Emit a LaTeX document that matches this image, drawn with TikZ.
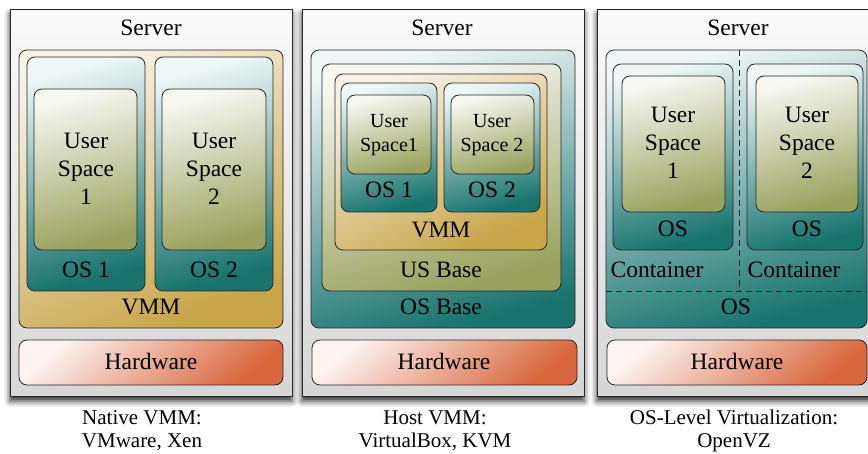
\documentclass[tikz,border=0pt]{standalone}
\usepackage{fontspec}
\setmainfont{Liberation Serif}
\usetikzlibrary{shadows.blur}

\definecolor{srvtop}{HTML}{FBFBFB}
\definecolor{srvbot}{HTML}{D6D6D6}
\definecolor{goldtop}{HTML}{F8F2E6}
\definecolor{goldbot}{HTML}{C8A548}
\definecolor{tealtop}{HTML}{EEF6F6}
\definecolor{tealbot}{HTML}{18736F}
\definecolor{olivetop}{HTML}{F7F7F2}
\definecolor{olivebot}{HTML}{98A25C}
\definecolor{hwtop}{HTML}{FDF4F2}
\definecolor{hwbot}{HTML}{D8663C}

\tikzset{
  box/.style={draw=black!85, line width=0.8pt, rounded corners=8pt},
  serverbox/.style={draw=black!85, line width=0.8pt, top color=srvtop, bottom color=srvbot,
    blur shadow={shadow xshift=0pt, shadow yshift=-5pt, shadow blur radius=6pt, shadow opacity=85}},
  vmmbox/.style={box, top color=goldtop, bottom color=goldbot, shading angle=25},
  osbox/.style={box, top color=tealtop, bottom color=tealbot, shading angle=15},
  usbox/.style={box, top color=olivetop, bottom color=olivebot, shading angle=15},
  hwbox/.style={box, top color=hwtop, bottom color=hwbot, shading angle=40},
  lbl/.style={inner sep=0pt, align=center, font=\fontsize{23.5}{28}\selectfont},
  smalllbl/.style={inner sep=0pt, align=center, font=\fontsize{20}{24}\selectfont},
  caption/.style={inner sep=0pt, align=center, font=\fontsize{21}{23}\selectfont},
  split/.style={draw=black!85, line width=0.8pt, dash pattern=on 6pt off 4pt}
}

\begin{document}
\begin{tikzpicture}[x=1pt, y=-1pt]
  \useasboundingbox (0,0) rectangle (868,454);
  \clip (0,0) rectangle (868,454);

  % Native VMM
  \draw[serverbox] (10,9) rectangle (292,396);
  \draw[vmmbox] (19,50) rectangle (283,328);
  \draw[osbox] (27,57) rectangle (145,291);
  \draw[osbox] (155,57) rectangle (273,291);
  \draw[usbox] (34,89) rectangle (137,250);
  \draw[usbox] (162,89) rectangle (266,250);
  \draw[hwbox] (19,340) rectangle (283,385);

  \node[lbl] (srv1) at (151,28) {Server};
  \node[lbl] (us1a) at (86,169) {User\\Space\\1};
  \node[lbl] (us2a) at (214,169) {User\\Space\\2};
  \node[lbl] (os1a) at (86,270) {OS 1};
  \node[lbl] (os2a) at (214,270) {OS 2};
  \node[lbl] (vmma) at (151,307) {VMM};
  \node[lbl] (hwa) at (151,361) {Hardware};
  \node[caption] (capa) at (142,431) {Native VMM:\\VMware, Xen};

  % Host VMM
  \draw[serverbox] (302,9) rectangle (584,396);
  \draw[osbox] (311,50) rectangle (575,328);
  \draw[usbox] (322,64) rectangle (561,291);
  \draw[vmmbox] (335,74) rectangle (547,250);
  \draw[osbox] (341,83) rectangle (437,212);
  \draw[osbox] (444,83) rectangle (540,212);
  \draw[usbox] (347,95) rectangle (431,174);
  \draw[usbox] (451,95) rectangle (534,174);
  \draw[hwbox] (312,340) rectangle (577,385);

  \node[lbl] (srv2) at (442,28) {Server};
  \node[smalllbl] (us1b) at (389,135) {User\\Space1};
  \node[smalllbl] (us2b) at (492,135) {User\\Space 2};
  \node[lbl] (os1b) at (389,190) {OS 1};
  \node[lbl] (os2b) at (492,190) {OS 2};
  \node[lbl] (vmmb) at (441,230) {VMM};
  \node[lbl] (usbase) at (441,270) {US Base};
  \node[lbl] (osbase) at (441,307) {OS Base};
  \node[lbl] (hwb) at (444,361) {Hardware};
  \node[caption] (capb) at (435,431) {Host VMM:\\VirtualBox, KVM};

  % OS-level virtualization
  \draw[serverbox] (597,9) rectangle (880,396);
  \draw[osbox] (606,50) rectangle (867,328);
  \draw[osbox] (613,64) rectangle (733,250);
  \draw[osbox] (747,64) rectangle (863,250);
  \draw[usbox] (622,76) rectangle (725,212);
  \draw[usbox] (756,76) rectangle (858,212);
  \draw[hwbox] (607,340) rectangle (867,385);
  \coordinate (divtop) at (739,50);
  \coordinate (divbot) at (739,291);
  \coordinate (divl) at (606,291);
  \coordinate (divr) at (867,291);
  \draw[split] (divtop) -- (divbot);
  \draw[split] (divl) -- (divr);

  \node[lbl] (srv3) at (738,28) {Server};
  \node[lbl] (us1c) at (673,143) {User\\Space\\1};
  \node[lbl] (us2c) at (807,143) {User\\Space\\2};
  \node[lbl] (os1c) at (673,229) {OS};
  \node[lbl] (os2c) at (807,229) {OS};
  \node[lbl] (ct1) at (657,270) {Container};
  \node[lbl] (ct2) at (794,270) {Container};
  \node[lbl] (osc) at (736,307) {OS};
  \node[lbl] (hwc) at (737,361) {Hardware};
  \node[caption] (capc) at (734,431) {OS-Level Virtualization:\\OpenVZ};
\end{tikzpicture}
\end{document}
